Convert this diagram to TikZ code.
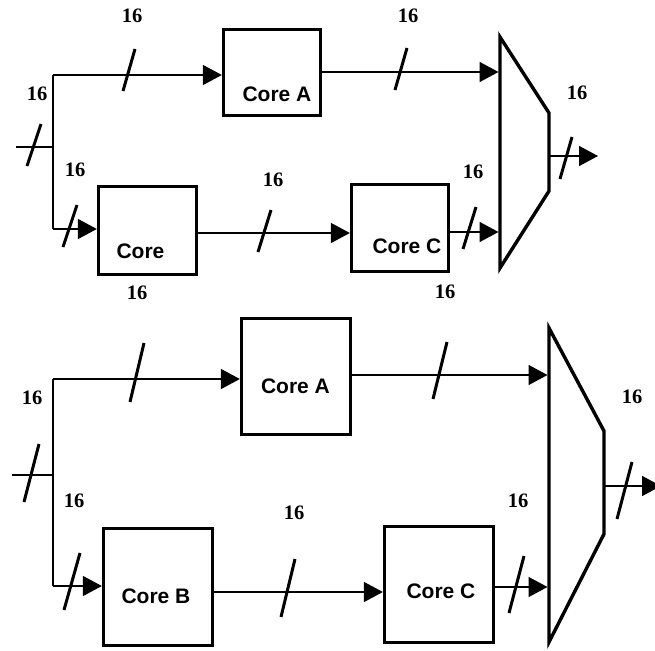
\documentclass[tikz,border=0pt]{standalone}
\usepackage{fontspec}
\setmainfont{Liberation Serif}
\setsansfont{Liberation Sans}
\usetikzlibrary{arrows.meta}
\begin{document}
\begin{tikzpicture}[x=1pt,y=-1pt,
  box/.style={draw,line width=3.3pt,inner sep=0pt},
  conn/.style={line width=1.5pt},
  arr/.style={line width=1.5pt,-{Triangle[length=19pt,width=20pt]}},
  slash/.style={line width=3pt},
  mux/.style={line width=3.4pt,line join=miter},
  num/.style={inner sep=0pt,font=\fontsize{20.5}{24}\selectfont\bfseries},
  lbl/.style={inner sep=0pt,font=\fontsize{21}{25}\selectfont\sffamily\bfseries}]
\clip (0,0) rectangle (655,650);
\fill[white] (0,0) rectangle (655,650);

% ================= TOP DIAGRAM =================
\node[box,minimum width=97pt,minimum height=86pt] (tA) at (272,72.5) {};
\node[box,minimum width=98pt,minimum height=88pt] (tB) at (147.5,230.5) {};
\node[box,minimum width=97pt,minimum height=87pt] (tC) at (400,228) {};
\node[lbl] (tAl) at (277,94) {Core A};
\node[lbl] (tBl) at (140.5,251.5) {Core};
\node[lbl] (tCl) at (407,246) {Core C};

\draw[mux] (500,37) -- (549,113) -- (549,191) -- (500,268) -- cycle;
\coordinate (tMa) at (498.5,72);
\coordinate (tMb) at (498.5,232);
\coordinate (tMo) at (549,156);
\coordinate (tOut) at (598,156);

\coordinate (tIn) at (16,147);
\coordinate (tJ) at (53,147);
\coordinate (tTop) at (53,75);
\coordinate (tBot) at (53,229);

\draw[conn] (tIn) -- (tJ);
\draw[conn] (tTop) -- (tBot);
\draw[arr] (tTop) -- (tTop -| tA.west);
\draw[arr] (tBot) -- (tBot -| tB.west);
\draw[arr] (tA.east |- tMa) -- (tMa);
\draw[arr] (tB.east |- 0,233) -- (tC.west |- 0,233);
\draw[arr] (tC.east |- tMb) -- (tMb);
\draw[arr] (tMo) -- (tOut);

\draw[slash] (41,124) -- (27,166);
\draw[slash] (135,49) -- (123,91);
\draw[slash] (407,48) -- (395,90);
\draw[slash] (77,205) -- (63,247);
\draw[slash] (271,210) -- (258,252);
\draw[slash] (476,207) -- (463,249);
\draw[slash] (572,137) -- (560,179);

\node[num] (tn1) at (132,16) {16};
\node[num] (tn2) at (408,15.5) {16};
\node[num] (tn3) at (37,94) {16};
\node[num] (tn4) at (577,93) {16};
\node[num] (tn5) at (75,170) {16};
\node[num] (tn6) at (137,293) {16};
\node[num] (tn7) at (273,180) {16};
\node[num] (tn8) at (473,172) {16};
\node[num] (tn9) at (445,292) {16};

% ================= BOTTOM DIAGRAM =================
\node[box,minimum width=109pt,minimum height=116pt] (bA) at (296,376.5) {};
\node[box,minimum width=109pt,minimum height=117pt] (bB) at (158,587) {};
\node[box,minimum width=109pt,minimum height=116pt] (bC) at (439,584.5) {};
\node[lbl] (bAl) at (295.5,386) {Core A};
\node[lbl] (bBl) at (156,596.5) {Core B};
\node[lbl] (bCl) at (441,591.5) {Core C};

\draw[mux] (549,328) -- (604,431) -- (604,534) -- (549,642) -- cycle;
\coordinate (bMa) at (547.5,375);
\coordinate (bMb) at (547.5,587);
\coordinate (bMo) at (604,486);
\coordinate (bOut) at (661,486);

\coordinate (bIn) at (12,475);
\coordinate (bJ) at (53,475);
\coordinate (bTop) at (53,379);
\coordinate (bBot) at (53,586);

\draw[conn] (bIn) -- (bJ);
\draw[conn] (bTop) -- (bBot);
\draw[arr] (bTop) -- (bTop -| bA.west);
\draw[arr] (bBot) -- (bBot -| bB.west);
\draw[arr] (bA.east |- bMa) -- (bMa);
\draw[arr] (bB.east |- 0,592) -- (bC.west |- 0,592);
\draw[arr] (bC.east |- bMb) -- (bMb);
\draw[arr] (bMo) -- (bOut);

\draw[slash] (39,444) -- (24,502);
\draw[slash] (144,343) -- (130,402);
\draw[slash] (447,342) -- (433,399);
\draw[slash] (80,553) -- (64,610);
\draw[slash] (295,559) -- (281,617);
\draw[slash] (524,556) -- (509,613);
\draw[slash] (632,462) -- (617,519);

\node[num] (bn1) at (32,397.5) {16};
\node[num] (bn2) at (74,501) {16};
\node[num] (bn3) at (294,513) {16};
\node[num] (bn4) at (518,501) {16};
\node[num] (bn5) at (632,397) {16};
\end{tikzpicture}
\end{document}
